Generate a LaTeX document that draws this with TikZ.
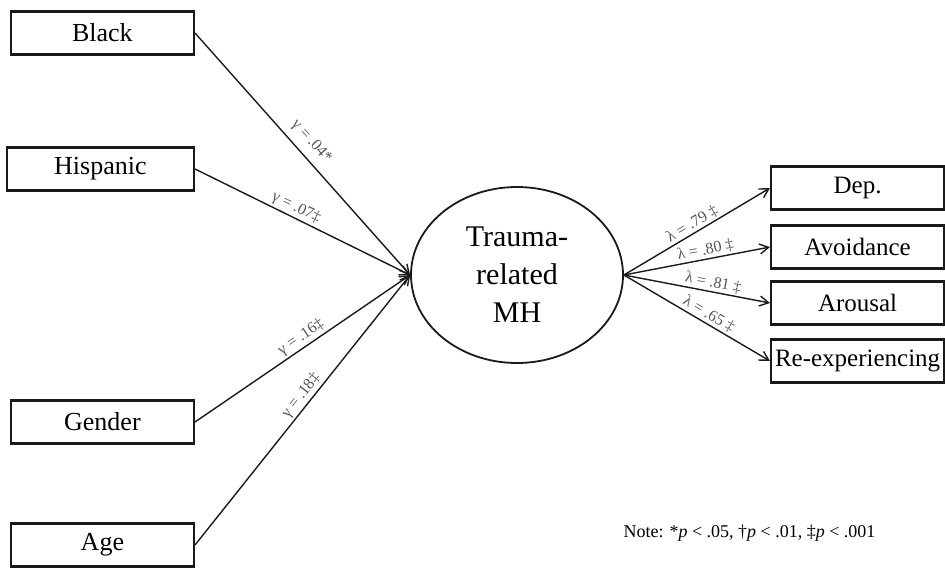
\documentclass[tikz,border=0pt]{standalone}
\usepackage{fontspec}
\setmainfont{Liberation Serif}
\usetikzlibrary{arrows.meta,shapes.geometric}
\definecolor{Ink}{HTML}{1A1A1A}
\definecolor{LabelGray}{HTML}{555555}
\tikzset{
  measure/.style={
    draw=Ink, line width=2.2pt, fill=white, inner sep=2pt,
    minimum width=183pt, minimum height=43pt,
    font=\fontsize{26}{30}\selectfont
  },
  indicator/.style={measure, minimum width=173pt, font=\fontsize{25}{30}\selectfont},
  latent/.style={
    ellipse, draw=Ink, line width=1.8pt, inner sep=0pt, align=center,
    minimum width=212pt, minimum height=176pt,
    font=\fontsize{30}{38}\selectfont
  },
  regpath/.style={-{Straight Barb[length=9pt,width=10pt]}, line width=1.4pt, draw=Ink},
  coef/.style={font=\fontsize{16}{18}\selectfont, text=LabelGray, sloped, above, inner sep=2pt}
}

\begin{document}
\begin{tikzpicture}[x=1pt,y=-1pt]
    \useasboundingbox (0,0) rectangle (945,568);
    % predictors
    \node[measure,anchor=east] (black) at (195,33) {Black};
    \node[measure,anchor=east,minimum width=187pt] (hisp) at (195,169) {Hispanic};
    \node[measure,anchor=east] (gender) at (195,422) {Gender};
    \node[measure,anchor=east] (age) at (195,545) {Age};
    % latent factor
    \node[latent] (mh) at (517,275) {Trauma-\\related\\MH};
    % indicators
    \node[indicator,anchor=west] (dep) at (770,188) {Dep.};
    \node[indicator,anchor=west] (avoid) at (770,247) {Avoidance};
    \node[indicator,anchor=west] (arousal) at (770,303) {Arousal};
    \node[indicator,anchor=west] (reexp) at (770,361) {Re-experiencing};
    % paths
    \draw[regpath] (black.east) -- node[coef,pos=.49,yshift=5pt] {γ = .04*} (mh.west);
    \draw[regpath] (hisp.east) -- node[coef,pos=.45] {γ = .07‡} (mh.west);
    \draw[regpath] (gender.east) -- node[coef,pos=.52] {γ = .16‡} (mh.west);
    \draw[regpath] (age.east) -- node[coef,pos=.53] {γ = .18‡} (mh.west);
    \draw[regpath] (mh.east) -- node[coef,pos=.5] {λ = .79 ‡} (dep.west);
    \draw[regpath] (mh.east) -- node[coef,pos=.57] {λ = .80 ‡} (avoid.west);
    \draw[regpath] (mh.east) -- node[coef,pos=.6] {λ = .81 ‡} (arousal.west);
    \draw[regpath] (mh.east) -- node[coef,pos=.55] {λ = .65 ‡} (reexp.west);
    % note
    \node[font=\fontsize{18}{20}\selectfont,anchor=west] (note) at (620,533)
      {Note: *\textit{p} < .05, †\textit{p} < .01, ‡\textit{p} < .001};
\end{tikzpicture}
\end{document}
